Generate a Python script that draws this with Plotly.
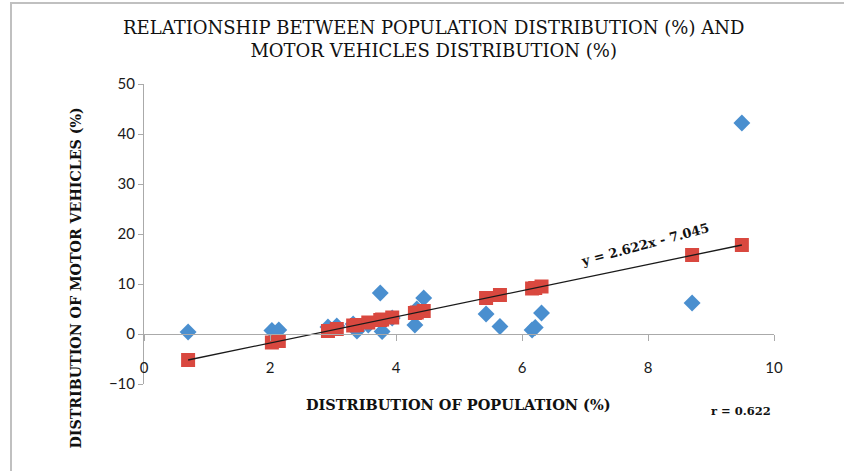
import plotly.graph_objects as go

# Distribution of population (%) per region
population_pct = [0.70, 2.03, 2.14, 2.92, 3.06, 3.32, 3.38, 3.56, 3.75, 3.78, 3.94,
                  4.30, 4.33, 4.44, 5.43, 5.65, 6.16, 6.21, 6.31, 8.70, 9.49]
# Observed distribution of motor vehicles (%)
vehicles_pct = [0.4, 0.7, 0.8, 1.4, 1.6, 2.0, 0.6, 1.8, 8.2, 0.5, 3.2,
                1.8, 5.0, 7.2, 4.0, 1.5, 0.8, 1.3, 4.2, 6.2, 42.2]
# Fitted values (read from red squares)
fitted_pct = [-5.2, -1.7, -1.4, 0.6, 1.0, 1.7, 1.8, 2.3, 2.8, 2.9, 3.3,
              4.2, 4.3, 4.6, 7.2, 7.8, 9.1, 9.2, 9.5, 15.8, 17.8]

x_ticks = [0, 2, 4, 6, 8, 10]
y_ticks = [-10, 0, 10, 20, 30, 40, 50]

BLUE = "#4A8FCF"
RED = "#D9483F"
SERIF = "DejaVu Serif, Liberation Serif, serif"
TICKFONT = dict(family="Lato, Open Sans, sans-serif", size=15, color="#1a1a1a")

fig = go.Figure()
fig.add_trace(go.Scatter(
    x=population_pct, y=vehicles_pct, mode="markers",
    marker=dict(symbol="diamond", size=13, color=BLUE), showlegend=False))
fig.add_trace(go.Scatter(
    x=population_pct, y=fitted_pct, mode="markers",
    marker=dict(symbol="square", size=14, color=RED), showlegend=False))
fig.add_trace(go.Scatter(
    x=[population_pct[0], population_pct[-1]], y=[fitted_pct[0], fitted_pct[-1]],
    mode="lines", line=dict(color="#1a1a1a", width=1.3), showlegend=False))

fig.update_layout(
    width=844, height=471,
    margin=dict(l=144, r=70, t=84, b=87),
    paper_bgcolor="white", plot_bgcolor="white",
    xaxis=dict(
        range=[0, 10], tickvals=x_ticks, showgrid=False, zeroline=False,
        showline=True, linecolor="#aaaaaa", linewidth=1,
        ticks="outside", ticklen=6, tickcolor="#aaaaaa",
        anchor="free", position=1/6, ticklabelstandoff=14,
        tickfont=TICKFONT),
    yaxis=dict(
        range=[-10, 50], tickvals=y_ticks, showgrid=False, zeroline=False,
        showline=True, linecolor="#aaaaaa", linewidth=1,
        ticks="outside", ticklen=5, tickcolor="#aaaaaa",
        tickfont=TICKFONT),
    annotations=[
        dict(text="RELATIONSHIP BETWEEN POPULATION DISTRIBUTION (%) AND<br>MOTOR VEHICLES DISTRIBUTION (%)",
             xref="paper", yref="paper", x=0.459, y=1.15, xanchor="center", yanchor="middle",
             showarrow=False, font=dict(family=SERIF, size=18, color="#111111")),
        dict(text="<b>DISTRIBUTION OF POPULATION (%)</b>", xref="paper", yref="paper",
             x=0.4985, y=-0.067, xanchor="center", yanchor="middle", showarrow=False,
             font=dict(family=SERIF, size=14.5, color="#111111")),
        dict(text="<b>DISTRIBUTION OF MOTOR VEHICLES (%)</b>", xref="paper", yref="paper",
             x=-0.108, y=0.355, xanchor="center", yanchor="middle", textangle=-90, showarrow=False,
             font=dict(family=SERIF, size=14.2, color="#111111")),
        dict(text="<b>y = 2.622x - 7.045</b>", x=7.95, y=17.9, xref="x", yref="y",
             textangle=-15, showarrow=False,
             font=dict(family=SERIF, size=13, color="#111111")),
        dict(text="<b>r = 0.622</b>", xref="paper", yref="paper",
             x=0.948, y=-0.09, xanchor="center", yanchor="middle", showarrow=False,
             font=dict(family=SERIF, size=11.5, color="#111111")),
    ],
    shapes=[
        dict(type="path", xref="paper", yref="paper",
             path="M -0.2111 -0.3 L -0.2111 1.27 L 1.2 1.27", line=dict(color="#c0c0c0", width=2)),
    ],
)

fig.write_html("out.html", config={"displayModeBar": False},
               post_script="document.body.style.margin='0';")
